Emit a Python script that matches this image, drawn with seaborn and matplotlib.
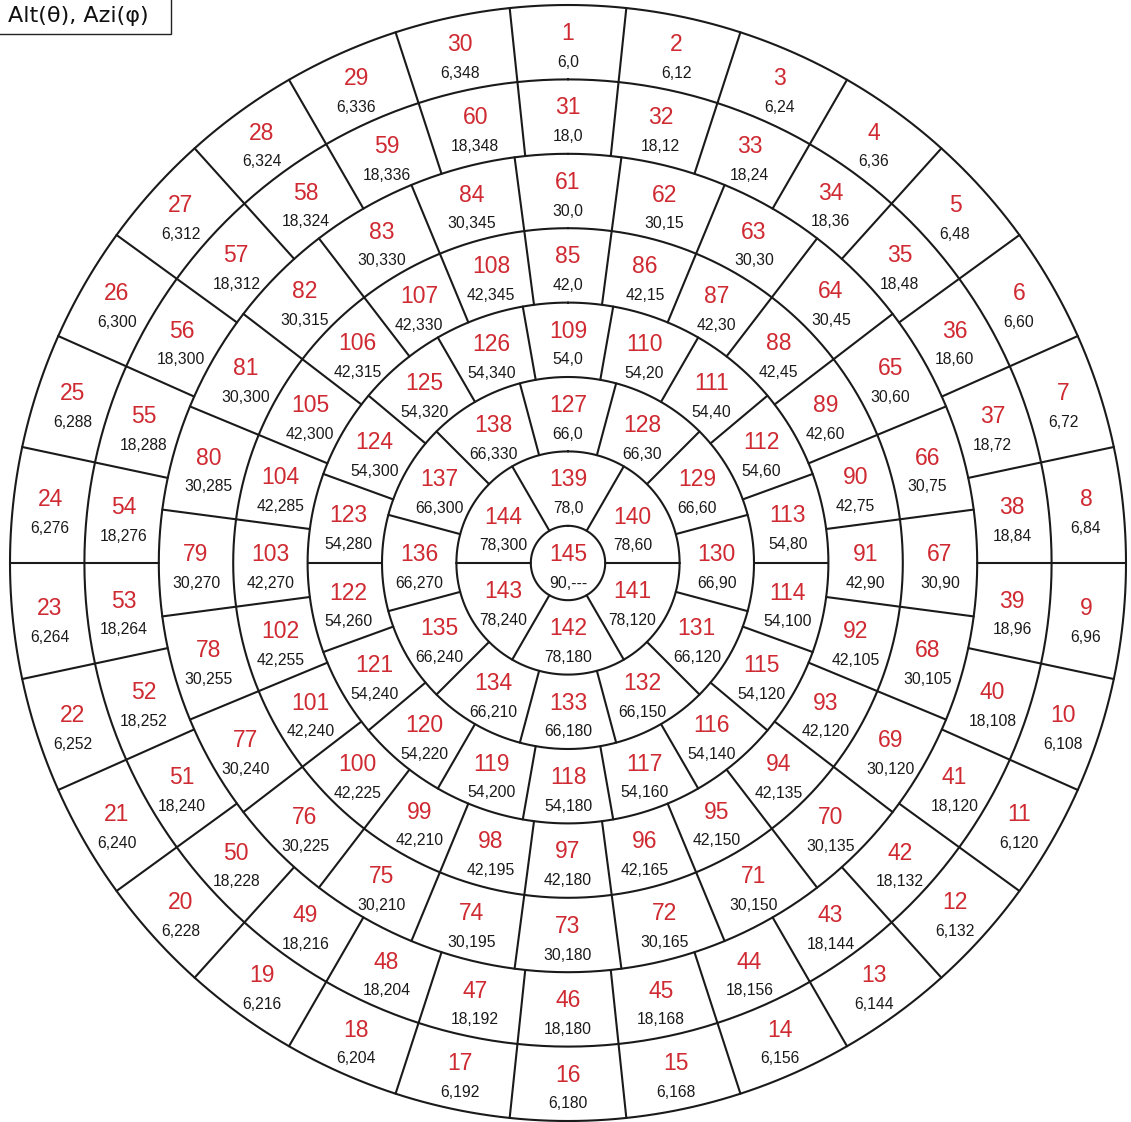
import numpy as np
import pandas as pd
import matplotlib
matplotlib.use("Agg")
import matplotlib.pyplot as plt
import seaborn as sns
from matplotlib.patches import Rectangle

# ---- data ----
ring_alt = [6, 18, 30, 42, 54, 66, 78, 90]          # altitude of each band (deg)
ring_count = [30, 30, 24, 24, 18, 12, 6, 1]         # patches per band
ring_step = [12, 12, 15, 15, 20, 30, 60, 360]       # azimuth step per band (deg)
band_half = 6                                        # half-width of each band (deg)
title_text = "Alt(θ), Azi(φ)"

sns.set_theme(style="white")
plt.rcParams['font.family'] = ['Liberation Sans', 'DejaVu Sans']

W, H, DPI = 1131, 1122, 100
fig = plt.figure(figsize=(W / DPI, H / DPI), dpi=DPI)
fig.patch.set_facecolor('white')

cx, cy, R = 568, 563, 558
ax = fig.add_axes([(cx - R) / W, (H - cy - R) / H, 2 * R / W, 2 * R / H], projection='polar')
ax.set_theta_zero_location('N')
ax.set_theta_direction(-1)
ax.set_ylim(0, 90)
ax.grid(False)
ax.set_xticks([])
ax.set_yticks([])
ax.spines['polar'].set_visible(False)
ax.set_facecolor('white')

line_color = '#1a1a1a'
lw = 1.5

# ---- circles (band borders) ----
rows = []
seg = 0
th = np.linspace(0, 2 * np.pi, 721)
radii = sorted({90 - (a - band_half) for a in ring_alt} | {90 - min(a + band_half, 90) for a in ring_alt if a < 90})
for r in radii:
    if r <= 0:
        continue
    for t in th:
        rows.append((seg, t, r))
    seg += 1

# ---- radial borders between patches ----
for a, n, st in zip(ring_alt, ring_count, ring_step):
    if n <= 1:
        continue
    r_in = 90 - (a + band_half)
    r_out = 90 - (a - band_half)
    for k in range(n):
        t = np.deg2rad((k + 0.5) * st)
        rows.append((seg, t, r_in))
        rows.append((seg, t, r_out))
        seg += 1

df = pd.DataFrame(rows, columns=['seg', 'theta', 'r'])
sns.lineplot(data=df, x='theta', y='r', units='seg', estimator=None, sort=False,
             color=line_color, lw=lw, ax=ax, legend=False)
for l in ax.lines:
    l.set_clip_on(False)
ax.set_xlabel('')
ax.set_ylabel('')
ax.set_xticks([])
ax.set_yticks([])

# ---- labels ----
red = '#cf2a32'
idx = 1
for a, n, st in zip(ring_alt, ring_count, ring_step):
    for k in range(n):
        az = k * st
        if a == 90:
            r = 0.0
            sub = "90,---"
        else:
            r = 90 - a
            sub = f"{a},{az}"
        t = np.deg2rad(az)
        ax.annotate(str(idx), (t, r), xytext=(0, 6.2), textcoords='offset points',
                    ha='center', va='center', fontsize=16.5, color=red)
        ax.annotate(sub, (t, r), xytext=(0, -14.5), textcoords='offset points',
                    ha='center', va='center', fontsize=11.3, color='#1a1a1a')
        idx += 1

# ---- title box ----
bw, bh = 171, 34
fig.add_artist(Rectangle((-2 / W, 1 - bh / H), (bw + 2) / W, (bh + 2) / H,
                         transform=fig.transFigure, fill=True, facecolor='white',
                         edgecolor='#222222', lw=1.0, clip_on=False))
fig.text(8 / W, 1 - 16 / H, title_text, ha='left', va='center', fontsize=16,
         family=['DejaVu Sans'], color='#111111')

fig.savefig('out.png', dpi=DPI, facecolor='white')
